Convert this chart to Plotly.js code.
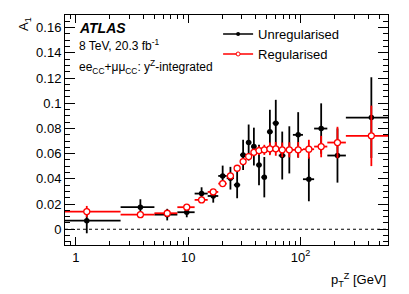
<!DOCTYPE html>
<html>
<head>
<meta charset="utf-8">
<script src="https://cdn.plot.ly/plotly-3.0.1.min.js"></script>
<style>html,body{margin:0;padding:0;background:#fff;}#chart{width:409px;height:294px;}</style>
</head>
<body>
<div id="chart"></div>
<script>
// pT^Z bins [GeV]
var binLow  = [0, 2.5, 5.0, 8.0, 11.4, 14.9, 18.5, 22.0, 25.5, 29.0, 32.6, 36.4, 40.4, 44.9, 50.2, 56.4, 63.9, 73.4, 85.4, 105.0, 132.0, 173.0, 253.0];
var binHigh = [2.5, 5.0, 8.0, 11.4, 14.9, 18.5, 22.0, 25.5, 29.0, 32.6, 36.4, 40.4, 44.9, 50.2, 56.4, 63.9, 73.4, 85.4, 105.0, 132.0, 173.0, 253.0, 600.0];
var binCentre = [1.25, 3.75, 6.5, 9.7, 13.15, 16.7, 20.25, 23.75, 27.25, 30.8, 34.5, 38.4, 42.65, 47.55, 53.3, 60.15, 68.65, 79.4, 95.2, 118.5, 152.5, 213.0, 426.5];

var unregularised    = [0.0068, 0.0175, 0.0116, 0.0135, 0.0283, 0.0264, 0.0423, 0.0405, 0.0352, 0.0590, 0.0688, 0.0656, 0.0510, 0.0413, 0.0773, 0.0842, 0.0585, 0.0630, 0.0749, 0.0397, 0.0799, 0.0585, 0.0886];
var unregularisedErr = [0.0100, 0.0063, 0.0046, 0.0040, 0.0050, 0.0053, 0.0082, 0.0090, 0.0106, 0.0120, 0.0143, 0.0150, 0.0160, 0.0160, 0.0175, 0.0185, 0.0190, 0.0187, 0.0180, 0.0175, 0.0200, 0.0215, 0.0320];
var regularised      = [0.0140, 0.0116, 0.0127, 0.0175, 0.0233, 0.0296, 0.0362, 0.0423, 0.0484, 0.0537, 0.0577, 0.0610, 0.0624, 0.0630, 0.0638, 0.0638, 0.0630, 0.0630, 0.0630, 0.0635, 0.0656, 0.0688, 0.0741];
var regularisedErr   = [0.0045, 0.0012, 0.0010, 0.0012, 0.0012, 0.0015, 0.0015, 0.0018, 0.0020, 0.0024, 0.0026, 0.0030, 0.0035, 0.0040, 0.0050, 0.0055, 0.0058, 0.0060, 0.0062, 0.0075, 0.0085, 0.0125, 0.0240];

var xTickVals = [1, 10, 100];
var xTickText = ['1', '10', '10<sup>2</sup>'];
var yTickVals = [0, 0.02, 0.04, 0.06, 0.08, 0.1, 0.12, 0.14, 0.16];
var yTickText = ['0', '0.02', '0.04', '0.06', '0.08', '0.1', '0.12', '0.14', '0.16'];
var xMinorVals = [0.8, 0.9, 2, 3, 4, 5, 6, 7, 8, 9, 20, 30, 40, 50, 60, 70, 80, 90, 200, 300, 400, 500, 600];

var xMin = 0.8, xMax = 600;
var lowEdge = binLow.map(function(v){ return Math.max(v, xMin * 0.9); });
var errPlus = binHigh.map(function(h, i){ return h - binCentre[i]; });
var errMinus = lowEdge.map(function(l, i){ return binCentre[i] - l; });

var font = 'Liberation Sans, Arial, Helvetica, sans-serif';

var traces = [
  {
    x: binCentre, y: unregularised, type: 'scatter', mode: 'markers', showlegend: false,
    marker: {color: 'black', size: 5.5, symbol: 'circle'},
    error_y: {type: 'data', array: unregularisedErr, color: 'black', thickness: 1.8, width: 0},
    error_x: {type: 'data', symmetric: false, array: errPlus, arrayminus: errMinus, color: 'black', thickness: 1.8, width: 0}
  },
  {
    x: binCentre, y: regularised, type: 'scatter', mode: 'markers', showlegend: false,
    marker: {color: 'white', size: 6, symbol: 'circle', line: {color: '#ff0000', width: 1.3}},
    error_y: {type: 'data', array: regularisedErr, color: '#ff0000', thickness: 1.8, width: 0},
    error_x: {type: 'data', symmetric: false, array: errPlus, arrayminus: errMinus, color: '#ff0000', thickness: 1.8, width: 0}
  },
  {
    x: [null], y: [null], type: 'scatter', mode: 'lines+markers', name: 'Unregularised',
    line: {color: 'black', width: 1.5}, marker: {color: 'black', size: 4}
  },
  {
    x: [null], y: [null], type: 'scatter', mode: 'lines+markers', name: 'Regularised',
    line: {color: '#ff0000', width: 1.5}, marker: {color: 'white', size: 4, line: {color: '#ff0000', width: 1}}
  }
];

var layout = {
  width: 409, height: 294,
  margin: {l: 65, r: 21, t: 15, b: 49},
  paper_bgcolor: 'white', plot_bgcolor: 'white',
  font: {family: font, size: 13, color: 'black'},
  showlegend: true,
  legend: {x: 0.474, y: 0.982, xanchor: 'left', yanchor: 'top', bgcolor: 'rgba(0,0,0,0)',
           font: {family: font, size: 13, color: 'black'}, tracegroupgap: 0},
  xaxis: {
    type: 'log', range: [Math.log10(xMin), Math.log10(xMax)],
    tickmode: 'array', tickvals: xTickVals, ticktext: xTickText,
    ticks: 'inside', ticklen: 8, tickwidth: 1, tickcolor: 'black',
    showline: true, linecolor: 'black', linewidth: 1, mirror: 'allticks',
    showgrid: false, zeroline: false,
    tickfont: {family: font, size: 13, color: 'black'},
    minor: {tickmode: 'array', tickvals: xMinorVals, ticks: 'inside', ticklen: 4, tickcolor: 'black', showgrid: false}
  },
  yaxis: {
    range: [-0.0125, 0.17],
    tickmode: 'array', tickvals: yTickVals, ticktext: yTickText,
    ticks: 'inside', ticklen: 10, tickwidth: 1, tickcolor: 'black',
    showline: true, linecolor: 'black', linewidth: 1, mirror: 'allticks',
    showgrid: false, zeroline: false,
    tickfont: {family: font, size: 13, color: 'black'},
    minor: {dtick: 0.005, tick0: 0, ticks: 'inside', ticklen: 5, tickcolor: 'black', showgrid: false}
  },
  shapes: [
    {type: 'line', xref: 'paper', x0: 0, x1: 1, yref: 'y', y0: 0, y1: 0,
     line: {color: 'black', width: 1, dash: 'dot'}, layer: 'below'}
  ],
  annotations: [
    {text: '<b><i>ATLAS</i></b>', xref: 'paper', yref: 'paper', x: 0.037, y: 0.943, xanchor: 'left', yanchor: 'middle',
     showarrow: false, font: {family: font, size: 14, color: 'black'}},
    {text: '8 TeV, 20.3 fb<sup>-1</sup>', xref: 'paper', yref: 'paper', x: 0.037, y: 0.87, xanchor: 'left', yanchor: 'middle',
     showarrow: false, font: {family: font, size: 12, color: 'black'}},
    {text: 'ee<sub>CC</sub>+μμ<sub>CC</sub>: y<sup>Z</sup>-integrated', xref: 'paper', yref: 'paper', x: 0.037, y: 0.775, xanchor: 'left', yanchor: 'middle',
     showarrow: false, font: {family: font, size: 12, color: 'black'}},
    {text: 'p<sub>T</sub><sup>Z</sup> [GeV]', xref: 'paper', yref: 'paper', x: 1, y: -0.152, xanchor: 'right', yanchor: 'middle',
     showarrow: false, font: {family: font, size: 13, color: 'black'}},
    {text: 'A<sub>1</sub>', xref: 'paper', yref: 'paper', x: -0.127, y: 1, xanchor: 'center', yanchor: 'top', textangle: -90,
     showarrow: false, font: {family: font, size: 13, color: 'black'}}
  ]
};

Plotly.newPlot('chart', traces, layout, {staticPlot: true, displayModeBar: false});
</script>
</body>
</html>
